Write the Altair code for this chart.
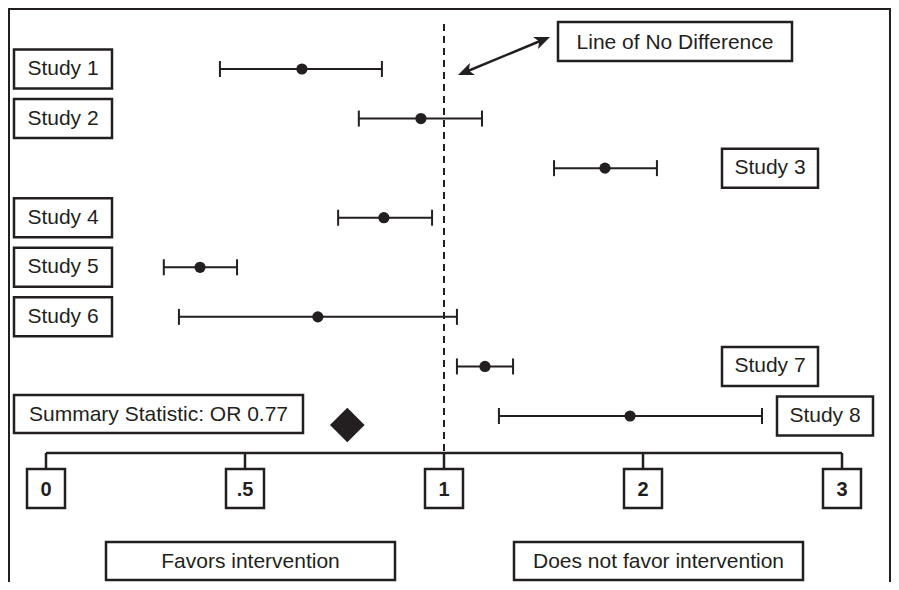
import altair as alt
import pandas as pd

# ---- data ----
studies = ["Study 1", "Study 2", "Study 3", "Study 4", "Study 5", "Study 6", "Study 7", "Study 8"]
rows = [1, 2, 3, 4, 5, 6, 7, 8]
ci_low = [0.437, 0.786, 1.553, 0.734, 0.296, 0.334, 1.065, 1.276]
estimate = [0.643, 0.942, 1.809, 0.849, 0.387, 0.683, 1.206, 1.935]
ci_high = [0.844, 1.191, 2.070, 0.970, 0.480, 1.065, 1.347, 2.598]
label_side = ["left", "left", "right", "left", "left", "left", "right", "far"]

summary_value = 0.757
summary_label = "Summary Statistic: OR 0.77"
tick_values = [0, 0.5, 1, 2, 3]
tick_labels = ["0", ".5", "1", "2", "3"]

INK = "#231f20"
FONT = "Liberation Sans"

df = pd.DataFrame({"study": studies, "row": rows, "lo": ci_low, "est": estimate,
                   "hi": ci_high, "side": label_side})
ticks = pd.DataFrame({"v": tick_values, "lab": tick_labels})
summ = pd.DataFrame({"v": [summary_value]})

xs = alt.Scale(domain=[0, 1, 3], range=[38, 436, 834])
ys = alt.Scale(domain=[1, 8], range=[61, 408])
X = lambda f: alt.X(f, type="quantitative", scale=xs, axis=None)
Y = lambda f: alt.Y(f, type="quantitative", scale=ys, axis=None)

base = alt.Chart(df)

W, H = 883, 574

# frame (top, left, right)
frame = alt.Chart(pd.DataFrame({"k": [0]})).mark_rule(color=INK, strokeWidth=2).encode(
    x=alt.value(1), x2=alt.value(W - 1), y=alt.value(1))
frame_l = alt.Chart(pd.DataFrame({"k": [0]})).mark_rule(color=INK, strokeWidth=2).encode(
    x=alt.value(1), y=alt.value(0), y2=alt.value(H + 10))
frame_r = alt.Chart(pd.DataFrame({"k": [0]})).mark_rule(color=INK, strokeWidth=2).encode(
    x=alt.value(W - 1), y=alt.value(0), y2=alt.value(H + 10))

# dashed line of no difference
noline = alt.Chart(pd.DataFrame({"v": [1]})).mark_rule(
    color=INK, strokeWidth=2, strokeDash=[7, 5]).encode(
    x=X("v"), y=alt.value(16), y2=alt.value(445))

# axis line and ticks
axis_line = alt.Chart(pd.DataFrame({"a": [0], "b": [3]})).mark_rule(color=INK, strokeWidth=2.5).encode(
    x=X("a"), x2="b", y=alt.value(445))
tick_lines = alt.Chart(ticks).mark_rule(color=INK, strokeWidth=2.5).encode(
    x=X("v"), y=alt.value(445), y2=alt.value(461))
tick_boxes = alt.Chart(ticks).mark_rect(fill="white", stroke=INK, strokeWidth=2.5,
                                       xOffset=-19, x2Offset=19).encode(
    x=X("v"), x2="v", y=alt.value(461), y2=alt.value(500))
tick_text = alt.Chart(ticks).mark_text(font=FONT, fontSize=20, fontWeight="bold", color=INK,
                                       baseline="middle").encode(
    x=X("v"), y=alt.value(482), text="lab:N")

# error bars
bars = base.mark_rule(color=INK, strokeWidth=2).encode(x=X("lo"), x2="hi", y=Y("row"))
cap_lo = base.mark_rule(color=INK, strokeWidth=2, yOffset=-8, y2Offset=8).encode(
    x=X("lo"), y=Y("row"), y2="row")
cap_hi = base.mark_rule(color=INK, strokeWidth=2, yOffset=-8, y2Offset=8).encode(
    x=X("hi"), y=Y("row"), y2="row")
dots = base.mark_circle(color=INK, opacity=1, size=125).encode(x=X("est"), y=Y("row"))

# summary diamond
diamond = alt.Chart(summ).mark_point(shape="diamond", filled=True, color=INK, opacity=1,
                                     size=1200).encode(x=X("v"), y=alt.value(417))

# study label boxes
def label_layer(side, x0, x1):
    d = base.transform_filter(alt.datum.side == side)
    box = d.mark_rect(fill="white", stroke=INK, strokeWidth=2.5, yOffset=-19.5, y2Offset=19.5).encode(
        x=alt.value(x0), x2=alt.value(x1), y=Y("row"), y2="row")
    txt = d.mark_text(font=FONT, fontSize=21, color=INK, baseline="middle").encode(
        x=alt.value((x0 + x1) / 2), y=Y("row"), text="study:N")
    return box + txt

left_labels = label_layer("left", 6, 104)
right_labels = label_layer("right", 714, 810)
far_labels = label_layer("far", 769, 865)

def ann_box(x0, x1, y0, y1, text):
    d = alt.Chart(pd.DataFrame({"t": [text]}))
    box = d.mark_rect(fill="white", stroke=INK, strokeWidth=2.5).encode(
        x=alt.value(x0), x2=alt.value(x1), y=alt.value(y0), y2=alt.value(y1))
    txt = d.mark_text(font=FONT, fontSize=21, color=INK, baseline="middle").encode(
        x=alt.value((x0 + x1) / 2), y=alt.value((y0 + y1) / 2 + 1), text="t:N")
    return box + txt

summary_box = ann_box(6, 295, 387, 425, summary_label)
nodiff_box = ann_box(550, 784, 14, 53, "Line of No Difference")
favors_box = ann_box(98, 387, 534, 572, "Favors intervention")
notfavor_box = ann_box(506, 795, 534, 572, "Does not favor intervention")

# double arrow
arrow_line = alt.Chart(pd.DataFrame({"k": [0]})).mark_rule(color=INK, strokeWidth=2.5).encode(
    x=alt.value(455), y=alt.value(65), x2=alt.value(537), y2=alt.value(31))
head_path = "M0,0L0.75,1.8L0,1.35L-0.75,1.8Z"
head1 = alt.Chart(pd.DataFrame({"k": [0]})).mark_point(shape=head_path, filled=True, color=INK,
                                                       opacity=1, size=300, angle=67.5).encode(
    x=alt.value(542), y=alt.value(29))
head2 = alt.Chart(pd.DataFrame({"k": [0]})).mark_point(shape=head_path, filled=True, color=INK,
                                                       opacity=1, size=300, angle=247.5).encode(
    x=alt.value(450), y=alt.value(67))

chart = alt.layer(
    frame, frame_l, frame_r, noline, axis_line, tick_lines, tick_boxes, tick_text,
    bars, cap_lo, cap_hi, dots, diamond,
    left_labels, right_labels, far_labels,
    summary_box, nodiff_box, favors_box, notfavor_box,
    arrow_line, head1, head2,
).properties(width=W, height=H, autosize=alt.AutoSizeParams(type="none"), padding=0,
             background="white").configure_view(strokeWidth=0)

chart.save("out.html", embed_options={"renderer": "svg", "actions": False})
